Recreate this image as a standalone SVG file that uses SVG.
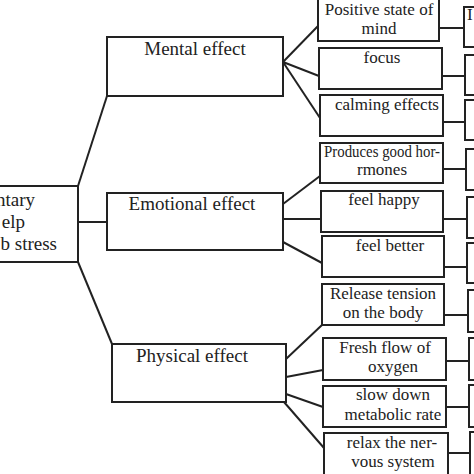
<svg xmlns="http://www.w3.org/2000/svg" width="474" height="474" viewBox="0 0 474 474">
<style>
rect{fill:#fff;stroke:#222;stroke-width:2}
line{stroke:#222;stroke-width:2}
text{font-family:"Liberation Serif","Times New Roman",serif;fill:#222;text-anchor:middle}
.l{font-size:19px}
.s{font-size:17px}
</style>
<rect x="0" y="0" width="474" height="474" style="stroke:none"/>
<g id="connectors">
<line x1="78" y1="186" x2="107" y2="96"/>
<line x1="78" y1="222" x2="107" y2="222"/>
<line x1="78" y1="262" x2="112" y2="344"/>
<line x1="283" y1="62" x2="318" y2="26"/>
<line x1="283" y1="62" x2="319" y2="76"/>
<line x1="283" y1="62" x2="320" y2="118"/>
<line x1="283" y1="204" x2="320" y2="176"/>
<line x1="283" y1="219" x2="321" y2="219"/>
<line x1="283" y1="242" x2="322" y2="263"/>
<line x1="286" y1="359" x2="322" y2="325"/>
<line x1="286" y1="377" x2="323" y2="370"/>
<line x1="286" y1="394" x2="323" y2="407"/>
<line x1="284" y1="402" x2="324" y2="448"/>
<line x1="439" y1="28" x2="464" y2="28"/>
<line x1="442" y1="76" x2="465" y2="76"/>
<line x1="443" y1="122" x2="465" y2="122"/>
<line x1="443" y1="169" x2="466" y2="169"/>
<line x1="443" y1="219" x2="467" y2="219"/>
<line x1="444" y1="267" x2="467" y2="267"/>
<line x1="444" y1="315" x2="468" y2="315"/>
<line x1="446" y1="361" x2="469" y2="361"/>
<line x1="446" y1="407" x2="469" y2="407"/>
<line x1="448" y1="453" x2="470" y2="453"/>
</g>
<g id="root">
<rect x="-5" y="186" width="83" height="76"/>
<text class="l" x="35" y="206" style="text-anchor:end">ntary</text>
<text class="l" x="25" y="228" style="text-anchor:end">elp</text>
<text class="l" x="57" y="250" style="text-anchor:end">b stress</text>
</g>
<g id="mental">
<rect x="107" y="37" width="176" height="59"/>
<text class="l" x="195" y="55">Mental effect</text>
</g>
<g id="emotional">
<rect x="107" y="193" width="176" height="57"/>
<text class="l" x="192" y="210">Emotional effect</text>
</g>
<g id="physical">
<rect x="112" y="344" width="174" height="58"/>
<text class="l" x="192" y="362">Physical effect</text>
</g>
<g id="positive">
<rect x="318" y="-1" width="121" height="42"/>
<text class="s" x="379" y="15">Positive state of</text>
<text class="s" x="379" y="34">mind</text>
</g>
<g id="focus">
<rect x="319" y="48" width="123" height="41"/>
<text class="s" x="382" y="63">focus</text>
</g>
<g id="calming">
<rect x="320" y="95" width="123" height="41"/>
<text class="s" x="387" y="110">calming effects</text>
</g>
<g id="hormones">
<rect x="320" y="143" width="123" height="40"/>
<text class="s" x="382" y="157" textLength="116" lengthAdjust="spacingAndGlyphs">Produces good hor-</text>
<text class="s" x="382" y="175">rmones</text>
</g>
<g id="happy">
<rect x="321" y="191" width="122" height="41"/>
<text class="s" x="384" y="205">feel happy</text>
</g>
<g id="better">
<rect x="322" y="236" width="122" height="41"/>
<text class="s" x="390" y="251">feel better</text>
</g>
<g id="tension">
<rect x="322" y="284" width="122" height="41"/>
<text class="s" x="383" y="299">Release tension</text>
<text class="s" x="383" y="318">on the body</text>
</g>
<g id="oxygen">
<rect x="323" y="338" width="123" height="42"/>
<text class="s" x="385" y="353">Fresh flow of</text>
<text class="s" x="393" y="372">oxygen</text>
</g>
<g id="metabolic">
<rect x="323" y="386" width="123" height="41"/>
<text class="s" x="393" y="400">slow down</text>
<text class="s" x="393" y="420">metabolic rate</text>
</g>
<g id="nervous">
<rect x="324" y="433" width="124" height="45"/>
<text class="s" x="392" y="448">relax the ner-</text>
<text class="s" x="393" y="467">vous system</text>
</g>
<g id="r1"><rect x="464" y="7" width="20" height="40"/><text class="s" x="467" y="20" style="text-anchor:start">I</text></g>
<g id="r2"><rect x="465" y="55" width="20" height="40"/></g>
<g id="r3"><rect x="465" y="100" width="20" height="40"/></g>
<g id="r4"><rect x="466" y="149" width="20" height="41"/></g>
<g id="r5"><rect x="467" y="197" width="20" height="41"/></g>
<g id="r6"><rect x="467" y="243" width="20" height="40"/></g>
<g id="r7"><rect x="468" y="290" width="20" height="42"/></g>
<g id="r8"><rect x="469" y="338" width="20" height="42"/></g>
<g id="r9"><rect x="469" y="385" width="20" height="42"/></g>
<g id="r10"><rect x="470" y="432" width="20" height="45"/></g>
</svg>
